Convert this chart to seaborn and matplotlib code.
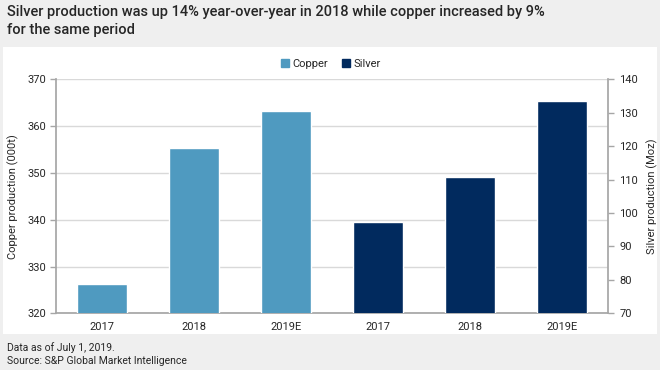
import pandas as pd
import matplotlib.pyplot as plt
import seaborn as sns
from matplotlib.lines import Line2D
from matplotlib.patches import Rectangle

# values
years = ["2017", "2018", "2019E"]
copper_kt = [326.3, 355.3, 363.2]
silver_moz = [97.3, 110.8, 133.5]

copper_keys = [f"Copper {y}" for y in years]
silver_keys = [f"Silver {y}" for y in years]
order = copper_keys + silver_keys

copper_df = pd.DataFrame({"key": copper_keys, "value": copper_kt})
silver_df = pd.DataFrame({"key": silver_keys, "value": silver_moz})

COPPER = "#4f9ac0"
SILVER = "#012a5e"
GRID = "#d9d9d9"
SPINE = "#a6a6a6"
TEXT = "#262626"
BG = "#efefef"

sns.set_theme(style="white")
plt.rcParams["font.family"] = ["Roboto", "Liberation Sans", "DejaVu Sans"]

fig = plt.figure(figsize=(6.6, 3.7), dpi=100, facecolor=BG)
fig.patches.append(Rectangle((3 / 660, 1 - 334 / 370), 654 / 660, 287 / 370,
                             transform=fig.transFigure, facecolor="white",
                             edgecolor="none", zorder=-5))

ax = fig.add_axes([56 / 660, 1 - 313.3 / 370, 552 / 660, 234 / 370])
ax.set_facecolor("none")
sns.barplot(data=copper_df, x="key", y="value", order=order, color=COPPER,
            width=0.55, saturation=1, ax=ax, zorder=3)
ax.set_ylim(320, 370)
ax.set_yticks(range(320, 371, 10))
ax.yaxis.grid(True, color=GRID, linewidth=1, zorder=0)
ax.set_axisbelow(True)

ax2 = ax.twinx()
sns.barplot(data=silver_df, x="key", y="value", order=order, color=SILVER,
            width=0.55, saturation=1, ax=ax2, zorder=3)
ax2.set_ylim(70, 140)
ax2.set_yticks(range(70, 141, 10))

ax.set_xlim(-0.5, len(order) - 0.5)
ax.set_xticks(range(len(order)))
ax.set_xticklabels(years + years)
ax.set_xticks([i - 0.5 for i in range(len(order) + 1)], minor=True)
ax.tick_params(axis="x", which="major", length=0, pad=6, labelsize=8, colors=TEXT)
ax.tick_params(axis="x", which="minor", length=4, width=1, color=SPINE, direction="out")
ax.tick_params(axis="y", length=4, width=1, color=SPINE, direction="out",
               labelsize=8, labelcolor=TEXT, pad=3)
ax2.tick_params(axis="y", length=4, width=1, color=SPINE, direction="out",
                labelsize=8, labelcolor=TEXT, pad=4)

ax.set_xlabel("")
ax.set_ylabel("Copper production (000t)", fontsize=8, color=TEXT, labelpad=6)
ax2.set_xlabel("")
ax2.set_ylabel("Silver production (Moz)", fontsize=8, color=TEXT, labelpad=6)

for a in (ax, ax2):
    a.spines["top"].set_visible(False)
    a.spines["left"].set_visible(a is ax)
    a.spines["right"].set_visible(a is ax2)
    a.spines["bottom"].set_visible(a is ax)
ax.spines["left"].set_color(SPINE)
ax.spines["bottom"].set_color(SPINE)
ax2.spines["right"].set_color(SPINE)

handles = [Line2D([], [], marker="s", linestyle="", markersize=6, color=COPPER),
           Line2D([], [], marker="s", linestyle="", markersize=6, color=SILVER)]
fig.legend(handles, ["Copper", "Silver"], loc="center", bbox_to_anchor=(0.5, 1 - 64 / 370),
           ncol=2, frameon=False, fontsize=8, handletextpad=0.1, columnspacing=1.2,
           handlelength=1, labelcolor=TEXT)

fig.text(7 / 660, 1 - 5 / 370,
         "Silver production was up 14% year-over-year in 2018 while copper increased by 9%\nfor the same period",
         ha="left", va="top", fontsize=10.5, fontweight="medium", color=TEXT, linespacing=1.35)
fig.text(7 / 660, 1 - 342 / 370,
         "Data as of July 1, 2019.\nSource: S&P Global Market Intelligence",
         ha="left", va="top", fontsize=7.5, color=TEXT, linespacing=1.35)

fig.savefig("out.png", dpi=100, facecolor=BG)
